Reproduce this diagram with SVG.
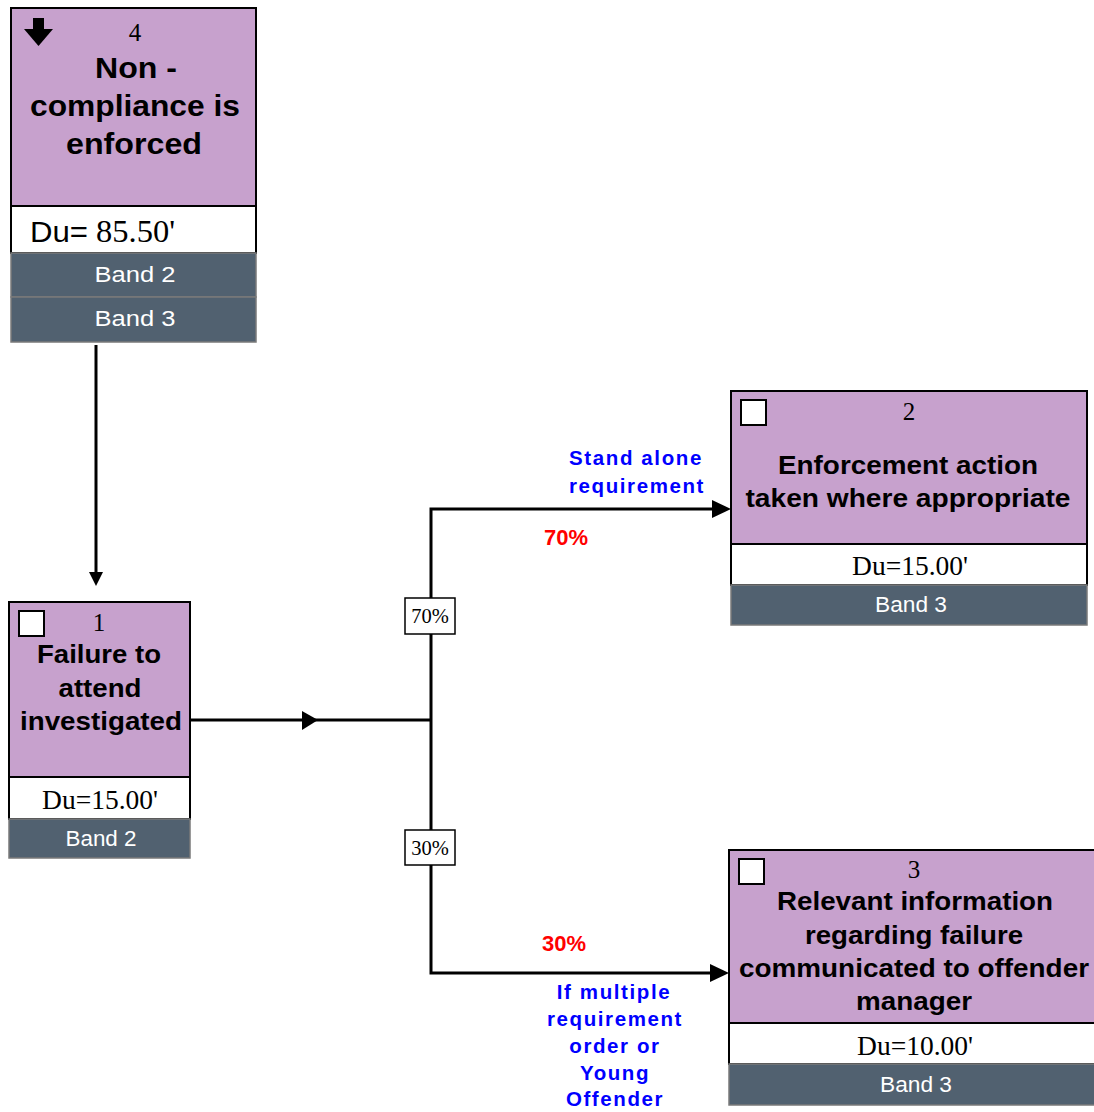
<svg xmlns="http://www.w3.org/2000/svg" width="1094" height="1112" viewBox="0 0 1094 1112">
<style>
.body{fill:#C7A1CD;stroke:#000;stroke-width:2}
.du{fill:#fff;stroke:#000;stroke-width:2}
.band{fill:#516170;stroke:#7a7a7a;stroke-width:1.5}
.chk{fill:#fff;stroke:#000;stroke-width:2}
.num{font-family:"Liberation Serif",serif;font-size:25px;fill:#000;text-anchor:middle}
.title{font-family:"Liberation Sans",Arial,sans-serif;font-weight:bold;fill:#000;text-anchor:middle}
.dut{font-family:"Liberation Serif",serif;font-size:27.5px;fill:#000;text-anchor:middle}
.bt{font-family:"Liberation Sans",Arial,sans-serif;font-size:22px;fill:#fff;text-anchor:middle}
.conn{stroke:#000;stroke-width:3;fill:none}
.lbl{fill:#fff;stroke:#000;stroke-width:1.5}
.lt{font-family:"Liberation Serif",serif;font-size:20.5px;fill:#000;text-anchor:middle}
.blue{font-family:"Liberation Sans",Arial,sans-serif;font-weight:bold;font-size:20.5px;fill:#0000FF;text-anchor:middle;letter-spacing:1.6px}
.red{font-family:"Liberation Sans",Arial,sans-serif;font-weight:bold;font-size:22px;fill:#FF0000;text-anchor:middle}
</style>
<g id="connectors">
<line class="conn" x1="96" y1="345" x2="96" y2="578"/>
<polygon points="89,572 103,572 96,586" fill="#000"/>
<line class="conn" x1="190" y1="720" x2="431" y2="720"/>
<polygon points="302,711 318,720 302,730" fill="#000"/>
<polyline class="conn" points="716,509 431,509 431,973 714,973"/>
<polygon points="712,500 731,509 712,518" fill="#000"/>
<polygon points="710,964 729,973 710,982" fill="#000"/>
<rect class="lbl" x="405" y="598" width="50" height="36"/>
<text class="lt" x="430" y="623">70%</text>
<rect class="lbl" x="405" y="830" width="50" height="35"/>
<text class="lt" x="430" y="855">30%</text>
<text class="blue" x="636" y="465">Stand alone</text>
<text class="blue" x="637" y="493">requirement</text>
<text class="red" x="566" y="545">70%</text>
<text class="red" x="564" y="951">30%</text>
<text class="blue" x="614" y="999">If multiple</text>
<text class="blue" x="615" y="1026">requirement</text>
<text class="blue" x="615" y="1053">order or</text>
<text class="blue" x="615" y="1080">Young</text>
<text class="blue" x="615" y="1106">Offender</text>
</g>
<g id="node4">
<rect class="body" x="11" y="8" width="245" height="198"/>
<rect class="du" x="11" y="206" width="245" height="47"/>
<rect class="band" x="11" y="253" width="245" height="44"/>
<rect class="band" x="11" y="297" width="245" height="45"/>
<rect x="33" y="18" width="11" height="14" fill="#000"/>
<polygon points="24,29 53,29 38.5,46" fill="#000"/>
<text class="num" x="135" y="41">4</text>
<text class="title" font-size="29" x="136" y="78" textLength="82" lengthAdjust="spacingAndGlyphs">Non -</text>
<text class="title" font-size="29" x="135" y="116" textLength="210" lengthAdjust="spacingAndGlyphs">compliance is</text>
<text class="title" font-size="29" x="134" y="154" textLength="136" lengthAdjust="spacingAndGlyphs">enforced</text>
<text x="30" y="242" fill="#000"><tspan font-family="Liberation Sans, sans-serif" font-size="29" textLength="58" lengthAdjust="spacingAndGlyphs">Du=</tspan><tspan x="96" font-family="Liberation Serif, serif" font-size="31" textLength="79" lengthAdjust="spacingAndGlyphs">85.50'</tspan></text>
<text class="bt" x="135" y="282" font-size="24" textLength="81" lengthAdjust="spacingAndGlyphs">Band 2</text>
<text class="bt" x="135" y="326" font-size="24" textLength="81" lengthAdjust="spacingAndGlyphs">Band 3</text>
</g>
<g id="node1">
<rect class="body" x="9" y="602" width="181" height="175"/>
<rect class="du" x="9" y="777" width="181" height="42"/>
<rect class="band" x="9" y="819" width="181" height="39"/>
<rect class="chk" x="19" y="611" width="25" height="25"/>
<text class="num" x="99" y="631">1</text>
<text class="title" font-size="25" x="99" y="663" textLength="124" lengthAdjust="spacingAndGlyphs">Failure to</text>
<text class="title" font-size="25" x="100" y="697" textLength="83" lengthAdjust="spacingAndGlyphs">attend</text>
<text class="title" font-size="25" x="101" y="730" textLength="162" lengthAdjust="spacingAndGlyphs">investigated</text>
<text class="dut" x="100" y="809">Du=15.00'</text>
<text class="bt" x="101" y="846" textLength="71" lengthAdjust="spacingAndGlyphs">Band 2</text>
</g>
<g id="node2">
<rect class="body" x="731" y="391" width="356" height="153"/>
<rect class="du" x="731" y="544" width="356" height="41"/>
<rect class="band" x="731" y="585" width="356" height="40"/>
<rect class="chk" x="741" y="400" width="25" height="25"/>
<text class="num" x="909" y="420">2</text>
<text class="title" font-size="25" x="908" y="474" textLength="260" lengthAdjust="spacingAndGlyphs">Enforcement action</text>
<text class="title" font-size="25" x="908" y="507" textLength="325" lengthAdjust="spacingAndGlyphs">taken where appropriate</text>
<text class="dut" x="910" y="575">Du=15.00'</text>
<text class="bt" x="911" y="612" textLength="72" lengthAdjust="spacingAndGlyphs">Band 3</text>
</g>
<g id="node3">
<rect class="body" x="729" y="850" width="368" height="173"/>
<rect class="du" x="729" y="1023" width="368" height="41"/>
<rect class="band" x="729" y="1064" width="368" height="41"/>
<rect class="chk" x="739" y="859" width="25" height="25"/>
<text class="num" x="914" y="878">3</text>
<text class="title" font-size="25" x="915" y="910" textLength="276" lengthAdjust="spacingAndGlyphs">Relevant information</text>
<text class="title" font-size="25" x="914" y="944" textLength="218" lengthAdjust="spacingAndGlyphs">regarding failure</text>
<text class="title" font-size="25" x="914" y="977" textLength="350" lengthAdjust="spacingAndGlyphs">communicated to offender</text>
<text class="title" font-size="25" x="914" y="1010" textLength="116" lengthAdjust="spacingAndGlyphs">manager</text>
<text class="dut" x="915" y="1055">Du=10.00'</text>
<text class="bt" x="916" y="1092" textLength="72" lengthAdjust="spacingAndGlyphs">Band 3</text>
</g>
</svg>
